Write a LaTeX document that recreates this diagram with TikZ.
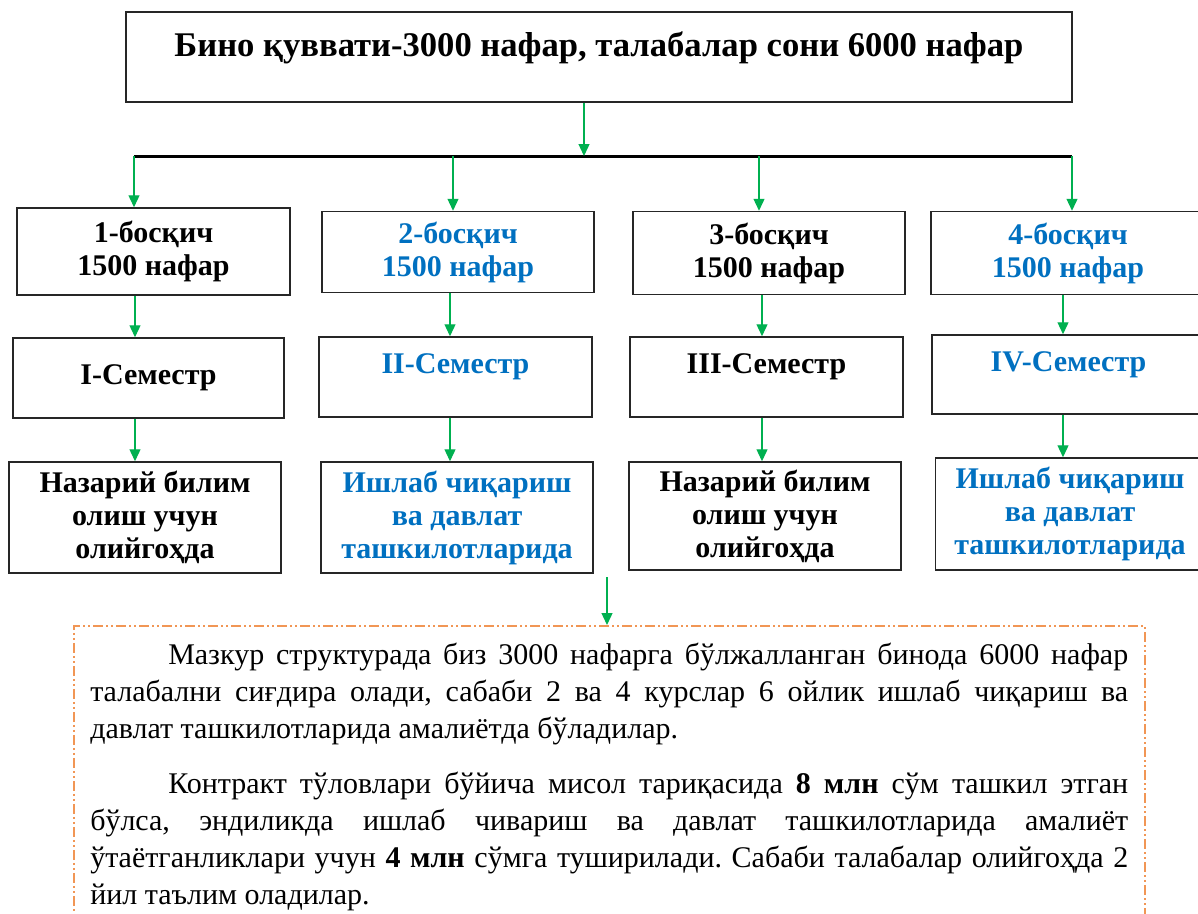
\documentclass[tikz,border=0pt]{standalone}
\usepackage{fontspec}
\setmainfont{Liberation Serif}
\usepackage{xcolor}
\usepackage{tikz}
\usetikzlibrary{arrows.meta}
\definecolor{stageblue}{RGB}{0,112,192}
\definecolor{arrowgreen}{RGB}{0,176,80}
\definecolor{noteorange}{RGB}{241,150,85}

\begin{document}
\begin{tikzpicture}[x=1pt, y=-1pt,
    box/.style={draw=black!85, line width=1.5pt, align=center, inner sep=0pt,
      font=\bfseries\fontsize{30}{33}\selectfont},
    liftup/.style={text depth=26pt},
    arr/.style={draw=arrowgreen, line width=1.3pt, -{Triangle[width=11pt,length=12pt]}}]
            \clip (0,0) rectangle (1198,913);
            \node[box, liftup, minimum width=946pt, minimum height=90pt, font=\bfseries\fontsize{34.6}{38}\selectfont] (top) at (599,57) {Бино қуввати-3000 нафар, талабалар сони 6000 нафар};
            \node[box, minimum width=273pt, minimum height=87pt] (s1) at (153.5,251.5) {1-босқич\\1500 нафар};
            \node[box, minimum width=272pt, minimum height=81pt, text=stageblue] (s2) at (458,252) {2-босқич\\1500 нафар};
            \node[box, minimum width=272pt, minimum height=83pt] (s3) at (769,253) {3-босқич\\1500 нафар};
            \node[box, minimum width=274pt, minimum height=83pt, text=stageblue] (s4) at (1068,253) {4-босқич\\1500 нафар};
            \node[box, minimum width=271pt, minimum height=80pt] (m1) at (148.5,378) {I-Семестр};
            \node[box, liftup, minimum width=273pt, minimum height=80pt, text=stageblue] (m2) at (455.5,377) {II-Семестр};
            \node[box, liftup, minimum width=273pt, minimum height=80pt] (m3) at (766.5,377) {III-Семестр};
            \node[box, liftup, minimum width=273pt, minimum height=79pt, text=stageblue] (m4) at (1068.5,374.5) {IV-Семестр};
            \node[box, minimum width=272pt, minimum height=111pt] (b1) at (145,517.5) {Назарий билим\\олиш учун\\олийгоҳда};
            \node[box, minimum width=272pt, minimum height=111pt, text=stageblue] (b2) at (457,517.5) {Ишлаб чиқариш\\ва давлат\\ташкилотларида};
            \node[box, minimum width=272pt, minimum height=108pt] (b3) at (765,516) {Назарий билим\\олиш учун\\олийгоҳда};
            \node[box, minimum width=269pt, minimum height=112pt, text=stageblue] (b4) at (1070,514) {Ишлаб чиқариш\\ва давлат\\ташкилотларида};
            \node[draw=noteorange, line width=1.5pt, dash pattern=on 10pt off 3pt on 2pt off 3pt on 2pt off 3pt, anchor=north west,
              text width=1038pt, inner xsep=16.5pt, inner ysep=17pt, align=justify, font=\fontsize{30}{37}\selectfont\frenchspacing] (note) at (73,625)
              {\hspace*{78pt}Мазкур структурада биз 3000 нафарга бўлжалланган бинода 6000 нафар\linebreak
               талабални сиғдира олади, сабаби 2 ва 4 курслар 6 ойлик ишлаб чиқариш ва\linebreak
               давлат ташкилотларида амалиётда бўладилар.\par\vspace{18pt}
               \hspace*{78pt}Контракт тўловлари бўйича мисол тариқасида \textbf{8 млн} сўм ташкил этган\linebreak
               бўлса, эндиликда ишлаб чивариш ва давлат ташкилотларида амалиёт\linebreak
               ўтаётганликлари учун \textbf{4 млн} сўмга туширилади. Сабаби талабалар олийгоҳда 2\linebreak
               йил таълим оладилар.};
            \coordinate (d1) at (134,156);
            \coordinate (d2) at (453,156);
            \coordinate (d3) at (759,156);
            \coordinate (d4) at (1072,156);
            \coordinate (t0) at (584,156);
            \coordinate (k1) at (135,0);
            \coordinate (k2) at (450,0);
            \coordinate (k3) at (762,0);
            \coordinate (k4) at (1063,0);
            \coordinate (p) at (607,577);
            \draw[line width=3pt] (d1) -- (d4);
            \draw[arr] (top.south -| t0) -- (t0);
            \foreach \i in {1,...,4} {
              \draw[arr] (d\i) -- (d\i |- s\i.north);
              \draw[arr] (s\i.south -| k\i) -- (m\i.north -| k\i);
              \draw[arr] (m\i.south -| k\i) -- (b\i.north -| k\i);
            }
            \draw[arr] (p) -- (p |- note.north);
          \end{tikzpicture}
\end{document}
